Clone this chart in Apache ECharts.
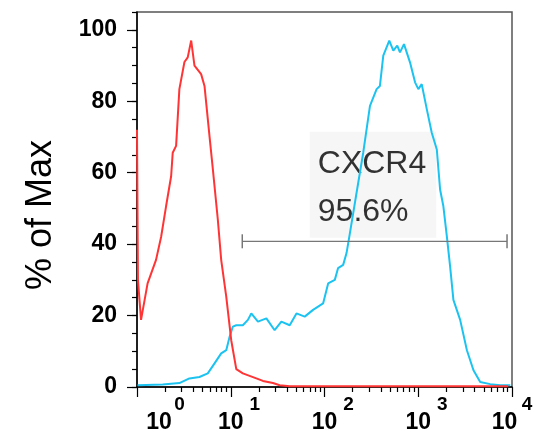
<!DOCTYPE html>
<html>
<head>
<meta charset="utf-8">
<script src="https://cdn.jsdelivr.net/npm/echarts@6/dist/echarts.min.js"></script>
<style>
  html, body { margin: 0; padding: 0; background: #fff; }
  #main { width: 536px; height: 438px; }
</style>
</head>
<body>
<div id="main"></div>
<script>
// x = position on the log axis in decades (0 -> 10^0 ... 4 -> 10^4), y = % of max
var redX = [0, 0.01, 0.043, 0.113, 0.203, 0.257, 0.31, 0.364, 0.381, 0.417, 0.452, 0.506, 0.541, 0.578, 0.613,
  0.684, 0.72, 0.773, 0.809, 0.862, 0.898, 0.952, 1.005, 1.059, 1.129, 1.273, 1.343, 1.45, 1.522, 1.63, 2.5, 3.96]
var redY = [72, 30, 18.8, 29, 35.6, 42, 50.6, 59, 65.6, 67.5, 83.4, 91, 92.3, 97, 90,
  87.6, 84.3, 70.3, 61, 46.9, 35.6, 25.3, 13.1, 5, 3.8, 2.4, 1.7, 1.1, 0.5, 0.2, 0.2, 0.2]

var blueX = [0.006, 0.274, 0.452, 0.559, 0.666, 0.755, 0.827, 0.898, 0.952, 0.987, 1.022, 1.059, 1.129, 1.183,
  1.219, 1.29, 1.38, 1.468, 1.54, 1.629, 1.701, 1.789, 1.878, 1.985, 2.039, 2.11, 2.145, 2.199, 2.235, 2.271,
  2.342, 2.413, 2.485, 2.556, 2.591, 2.627, 2.691, 2.734, 2.776, 2.805, 2.848, 2.912, 2.966, 3.001, 3.037,
  3.091, 3.144, 3.198, 3.233, 3.268, 3.305, 3.34, 3.375, 3.447, 3.519, 3.589, 3.661, 3.768, 3.875, 3.982]
var blueY = [0.5, 0.7, 1.1, 2.4, 2.8, 3.8, 6.6, 9.4, 10.3, 14, 16.9, 17.3, 17.3, 18.8,
  20.6, 18.3, 19.2, 15.9, 18.3, 17.3, 20.6, 19.7, 21.6, 23.4, 29, 30, 33.3, 34.2, 37.5, 43.1,
  54.4, 65.6, 78.7, 83.4, 84.3, 92.8, 97, 94.2, 95.6, 93.7, 96, 90.9, 85.3, 83.4, 84.8,
  77.8, 71.2, 66.5, 55.3, 50.6, 42.2, 33.7, 24.4, 18.8, 10.3, 4.7, 1.4, 0.8, 0.5, 0.5]

// gate bar and its label
var gateX = [1.123, 3.947]
var gateY = 40.8
var gateName = 'CXCR4'
var gatePct = '95.6%'
var gateLabelAt = [1.843, 41.8]

// axis ticks
var yLabels = [0, 20, 40, 60, 80, 100]
var yMinor = [0, 5, 10, 15, 20, 25, 30, 35, 40, 45, 50, 55, 60, 65, 70, 75, 80, 85, 90, 95, 100, 105]
var xDecades = [0, 1, 2, 3, 4]
var xExp = ['0', '1', '2', '3', '4']
var xMinor = []
for (var d = 0; d < 4; d++) {
  for (var k = 2; k <= 9; k++) {
    xMinor.push(d + Math.log10(k))
  }
}

function pairs (xs, ys) {
  return xs.map(function (x, i) { return [x, ys[i]] })
}

var font = 'Liberation Sans, Arial, sans-serif'
var chart = echarts.init(document.getElementById('main'))

// exponent sits on a line above "10", shifted right
function tok (size, pad) {
  return { fontSize: size, fontWeight: 'bold', fontFamily: font, color: '#000', lineHeight: 18, align: 'center', padding: pad }
}

var option = {
  animation: false,
  grid: {
    left: 137, right: 24, top: 12, bottom: 51,
    outerBoundsMode: 'none',
    show: true, borderColor: '#555', borderWidth: 1.5
  },
  xAxis: [
    {
      type: 'value', min: 0, max: 4, interval: 1, position: 'bottom',
      axisLine: { lineStyle: { color: '#000', width: 1.5 } },
      axisTick: { length: 10, lineStyle: { color: '#000', width: 1.2 }, customValues: xDecades },
      splitLine: { show: false },
      axisLabel: {
        margin: 9, color: '#000', fontFamily: font,
        customValues: xDecades,
        formatter: function (v) {
          var e = xExp[v]
          if (v === 0) return '{e0|' + e + '}\n{b0|10}'
          if (v === 4) return '{e4|' + e + '}\n{b4|10}'
          return '{e|' + e + '}\n{b|10}'
        },
        rich: {
          e0: tok(19, [0, 0, 0, 85]),
          b0: tok(23, [0, 0, 0, 44]),
          e: tok(19, [0, 0, 0, 48]),
          b: tok(23, [0, 0, 0, 0]),
          e4: tok(19, [0, 0, 0, 30]),
          b4: tok(23, [0, 15, 0, 0])
        }
      }
    },
    {
      type: 'value', min: 0, max: 4, position: 'bottom',
      axisLine: { show: false },
      axisTick: { length: 5, lineStyle: { color: '#000', width: 1.2 }, customValues: xMinor },
      axisLabel: { show: false },
      splitLine: { show: false }
    }
  ],
  yAxis: [
    {
      type: 'value', min: 0, max: 105, position: 'left',
      name: '% of Max', nameLocation: 'middle', nameGap: 78,
      nameTextStyle: { fontSize: 36, fontFamily: font, color: '#000', padding: [0, 31, 0, 0] },
      axisLine: { show: true, lineStyle: { color: '#000', width: 1.5 } },
      axisTick: { show: true, length: 10, lineStyle: { color: '#000', width: 1.2 }, customValues: yLabels },
      splitLine: { show: false },
      axisLabel: { margin: 20, fontSize: 23, fontWeight: 'bold', fontFamily: font, color: '#000', customValues: yLabels }
    },
    {
      type: 'value', min: 0, max: 105, position: 'left',
      axisLine: { show: false },
      axisTick: { show: true, length: 5, lineStyle: { color: '#000', width: 1.2 }, customValues: yMinor },
      axisLabel: { show: false },
      splitLine: { show: false }
    }
  ],
  series: [
    {
      name: 'stained', type: 'line', showSymbol: false, silent: true,
      lineStyle: { color: '#1cc3f0', width: 2 },
      data: pairs(blueX, blueY)
    },
    {
      name: 'control', type: 'line', showSymbol: false, silent: true,
      lineStyle: { color: '#ff3535', width: 2 },
      data: pairs(redX, redY)
    },
    {
      name: 'gate', type: 'line', silent: true,
      symbol: 'rect', symbolSize: [1.5, 14], showSymbol: true,
      itemStyle: { color: '#777' },
      lineStyle: { color: '#777', width: 1.2 },
      data: [[gateX[0], gateY], [gateX[1], gateY]]
    },
    {
      name: 'gateLabel', type: 'scatter', silent: true, symbolSize: 0,
      data: [gateLabelAt],
      label: {
        show: true, position: [0, 0], align: 'left', verticalAlign: 'bottom',
        backgroundColor: '#f4f4f4', padding: [8, 10, 2, 8],
        formatter: '{t|' + gateName + '}\n{t|' + gatePct + '}',
        rich: {
          t: { fontSize: 32, fontFamily: font, color: '#000', lineHeight: 48 }
        }
      }
    }
  ]
}
chart.setOption(option)
</script>
</body>
</html>
